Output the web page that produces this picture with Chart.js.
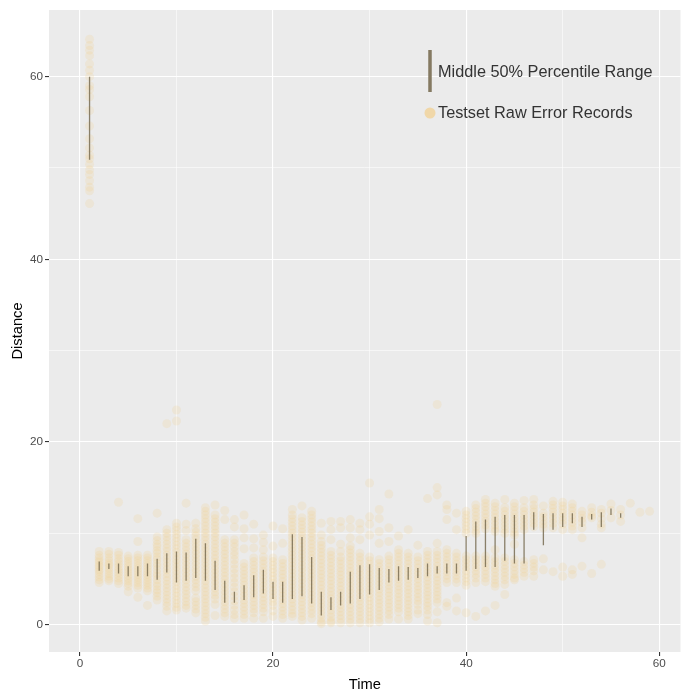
<!DOCTYPE html>
<html>
<head>
<meta charset="utf-8">
<script src="https://cdn.jsdelivr.net/npm/chart.js@4.4.1/dist/chart.umd.min.js"></script>
<style>
  html, body { margin: 0; padding: 0; background: #ffffff; }
  #wrap { width: 685px; height: 695px; }
</style>
</head>
<body>
<div id="wrap"><canvas id="errorChart" width="685" height="695"></canvas></div>
<script>
// time steps (x)
const times = [1, 2, 3, 4, 5, 6, 7, 8, 9, 10, 11, 12, 13, 14, 15, 16, 17, 18, 19, 20,
  21, 22, 23, 24, 25, 26, 27, 28, 29, 30, 31, 32, 33, 34, 35, 36, 37, 38, 39, 40,
  41, 42, 43, 44, 45, 46, 47, 48, 49, 50, 51, 52, 53, 54, 55, 56, 57, 58, 59];

// middle 50% range, times 1..56
const q75 = [60.0, 6.9, 6.7, 6.7, 6.4, 6.4, 6.7, 7.2, 7.8, 8.0, 7.9, 9.4, 8.9, 7.0, 4.8, 3.6, 4.3, 5.4, 6.0, 4.7,
  4.7, 9.9, 9.6, 7.4, 3.6, 3.0, 3.6, 5.8, 6.5, 6.6, 6.2, 6.1, 6.4, 6.3, 6.2, 6.7, 6.4, 6.7, 6.7, 9.7,
  11.3, 11.5, 11.8, 12.0, 12.0, 12.0, 12.3, 12.1, 12.2, 12.2, 12.2, 11.8, 12.1, 12.3, 12.7, 12.2];
const q25 = [50.9, 5.9, 6.1, 5.6, 5.3, 5.3, 5.3, 4.9, 5.7, 4.6, 4.8, 5.1, 4.8, 3.8, 2.4, 2.4, 2.7, 3.0, 3.4, 2.8,
  2.4, 2.8, 3.1, 2.3, 1.0, 1.6, 2.1, 2.3, 2.8, 3.3, 3.8, 4.6, 4.8, 4.9, 5.1, 5.3, 5.6, 5.6, 5.6, 5.9,
  6.1, 6.3, 6.3, 7.0, 6.7, 6.7, 10.4, 8.7, 10.4, 10.7, 11.1, 10.7, 11.5, 10.7, 12.0, 11.7];

// raw error records per time step (distance)
const rawErrors = [
  [64.1, 63.4, 62.9, 62.3, 61.4, 60.7, 60.0, 59.0, 58.6, 57.8, 56.3, 54.6, 53.2, 52.2, 51.4, 51.0, 50.4, 49.8, 49.3, 48.6, 47.9, 47.5, 46.1],
  [8.0, 7.6, 7.3, 7.0, 6.8, 6.5, 6.3, 6.0, 5.8, 5.5, 5.2, 4.9, 4.6],
  [8.0, 7.7, 7.3, 7.0, 6.7, 6.5, 6.2, 5.9, 5.6, 5.3, 5.0, 4.8],
  [13.4, 7.9, 7.6, 7.2, 6.9, 6.6, 6.3, 6.0, 5.7, 5.4, 5.1, 4.8, 4.5],
  [7.5, 7.2, 6.9, 6.6, 6.3, 6.0, 5.7, 5.4, 5.1, 4.8, 4.5, 4.2, 3.6],
  [11.6, 9.1, 7.6, 7.3, 7.0, 6.7, 6.4, 6.1, 5.8, 5.5, 5.2, 4.9, 4.6, 4.3, 4.0, 3.0],
  [7.6, 7.3, 7.0, 6.7, 6.4, 6.1, 5.8, 5.5, 5.2, 4.9, 4.6, 4.3, 4.0, 3.7, 2.1],
  [12.2, 9.6, 9.2, 8.8, 8.5, 8.1, 7.8, 7.4, 7.1, 6.7, 6.4, 6.0, 5.6, 5.3, 4.9, 4.5, 4.2, 3.8, 3.5, 3.1, 2.7],
  [22.0, 10.4, 10.0, 9.6, 9.2, 8.8, 8.4, 8.0, 7.6, 7.2, 6.8, 6.4, 6.0, 5.6, 5.2, 4.8, 4.4, 4.0, 3.6, 3.2, 2.8, 2.4, 2.0, 1.5],
  [23.5, 22.3, 11.1, 10.7, 10.3, 9.9, 9.5, 9.1, 8.7, 8.3, 7.9, 7.5, 7.1, 6.7, 6.3, 5.9, 5.5, 5.1, 4.7, 4.3, 3.9, 3.5, 3.1, 2.7, 2.3, 1.9, 1.6],
  [13.3, 11.0, 10.3, 9.3, 8.9, 8.5, 8.1, 7.7, 7.3, 6.9, 6.5, 6.1, 5.7, 5.3, 4.9, 4.5, 4.1, 3.7, 3.3, 2.9, 2.5, 2.1, 1.8],
  [11.1, 10.5, 10.1, 9.7, 9.3, 8.9, 8.5, 8.1, 7.7, 7.3, 6.9, 6.5, 6.1, 5.7, 5.3, 4.9, 4.5, 4.1, 3.7, 2.9, 2.5, 2.1, 1.7, 1.3],
  [12.8, 12.4, 12.0, 11.6, 11.2, 10.8, 10.4, 10.0, 9.6, 9.2, 8.8, 8.4, 8.0, 7.6, 7.2, 6.8, 6.4, 6.0, 5.6, 5.2, 4.8, 4.4, 4.0, 3.6, 3.2, 2.8, 2.4, 2.0, 1.6, 1.2, 0.8, 0.4],
  [13.1, 12.0, 11.6, 11.2, 10.8, 10.4, 10.0, 9.6, 9.2, 8.8, 8.4, 8.0, 7.6, 7.2, 6.8, 6.4, 6.0, 5.6, 5.2, 4.8, 4.4, 4.0, 3.6, 3.2, 2.8, 2.2, 1.0],
  [12.5, 11.5, 9.3, 8.9, 8.5, 8.1, 7.7, 7.3, 6.9, 6.5, 6.1, 5.7, 5.3, 4.9, 4.5, 4.1, 3.7, 3.3, 2.9, 2.5, 2.1, 1.7, 1.3, 0.9],
  [11.5, 10.7, 9.3, 8.9, 8.5, 8.0, 7.6, 7.1, 6.6, 6.1, 5.6, 5.1, 4.6, 4.1, 3.6, 3.1, 2.6, 2.1, 1.6, 1.1, 0.7],
  [12.0, 10.5, 9.5, 8.3, 6.7, 6.3, 5.9, 5.5, 5.1, 4.7, 4.3, 3.9, 3.5, 3.1, 2.7, 2.3, 1.9, 1.5, 1.1, 0.7],
  [11.0, 9.4, 8.4, 7.3, 6.9, 6.5, 6.1, 5.7, 5.3, 4.9, 4.5, 4.1, 3.7, 3.3, 2.9, 2.5, 2.1, 1.7, 1.3, 0.7],
  [9.8, 9.0, 8.2, 7.4, 7.0, 6.6, 6.2, 5.8, 5.4, 5.0, 4.6, 4.2, 3.8, 3.4, 3.0, 2.6, 2.2, 1.8, 1.4, 0.7],
  [10.8, 8.6, 7.3, 6.9, 6.5, 6.1, 5.7, 5.3, 4.9, 4.5, 4.1, 3.7, 3.3, 2.9, 2.5, 2.1, 1.5, 0.9],
  [10.5, 8.9, 7.1, 6.7, 6.3, 5.9, 5.5, 5.1, 4.7, 4.3, 3.9, 3.5, 3.1, 2.7, 2.3, 1.9, 1.5, 1.1, 0.7],
  [12.6, 12.0, 11.6, 11.2, 10.8, 10.4, 10.0, 9.6, 9.2, 8.8, 8.4, 8.0, 7.6, 7.2, 6.8, 6.4, 6.0, 5.6, 5.2, 4.8, 4.4, 4.0, 3.6, 3.2, 2.8, 2.4, 2.0, 1.6, 1.2, 0.9],
  [13.0, 11.7, 11.3, 10.9, 10.5, 10.1, 9.7, 9.3, 8.9, 8.5, 8.1, 7.7, 7.3, 6.9, 6.5, 6.1, 5.7, 5.3, 4.9, 4.5, 4.1, 3.7, 3.3, 2.9, 2.5, 2.1, 1.7, 1.3, 0.9, 0.5],
  [12.4, 12.0, 11.6, 11.2, 10.8, 10.4, 10.0, 9.6, 9.2, 8.8, 8.4, 8.0, 7.6, 7.2, 6.8, 6.4, 6.0, 5.6, 5.2, 4.8, 4.4, 4.0, 3.6, 3.2, 2.8, 2.4, 2.0, 1.6, 1.2, 0.7],
  [11.1, 9.8, 9.1, 8.7, 8.3, 7.9, 7.5, 7.1, 6.7, 6.3, 5.9, 5.5, 5.1, 4.7, 4.3, 3.9, 3.5, 3.1, 2.7, 2.3, 1.9, 1.5, 1.1, 0.7, 0.3, 0.1],
  [11.3, 10.4, 9.3, 8.0, 7.6, 7.2, 6.8, 6.4, 6.0, 5.6, 5.2, 4.8, 4.4, 4.0, 3.6, 3.2, 2.8, 2.4, 2.0, 1.6, 1.2, 0.8, 0.4, 0.2],
  [11.3, 10.6, 8.8, 8.0, 7.4, 7.0, 6.6, 6.2, 5.8, 5.4, 5.0, 4.6, 4.2, 3.8, 3.4, 3.0, 2.6, 2.2, 1.8, 1.4, 1.0, 0.6, 0.2],
  [11.5, 10.6, 9.5, 8.6, 8.2, 7.8, 7.4, 7.0, 6.6, 6.2, 5.8, 5.4, 5.0, 4.6, 4.2, 3.8, 3.4, 3.0, 2.6, 2.2, 1.8, 1.4, 1.0, 0.6, 0.2],
  [11.1, 10.4, 9.3, 7.8, 7.4, 7.0, 6.6, 6.2, 5.8, 5.4, 5.0, 4.6, 4.2, 3.8, 3.4, 3.0, 2.6, 2.2, 1.8, 1.4, 1.0, 0.6, 0.2],
  [15.5, 11.8, 11.0, 9.8, 7.4, 7.0, 6.6, 6.2, 5.8, 5.4, 5.0, 4.6, 4.2, 3.8, 3.4, 3.0, 2.6, 2.2, 1.8, 1.4, 1.0, 0.6, 0.2],
  [12.6, 11.6, 10.2, 8.9, 7.1, 6.7, 6.3, 5.9, 5.5, 5.1, 4.7, 4.3, 3.9, 3.5, 3.1, 2.7, 2.3, 1.9, 1.5, 1.1, 0.7, 0.3],
  [14.3, 10.6, 9.1, 7.5, 7.1, 6.7, 6.3, 5.9, 5.5, 5.1, 4.7, 4.3, 3.9, 3.5, 3.1, 2.7, 2.3, 1.9, 1.5, 1.1, 0.6],
  [9.7, 8.2, 7.8, 7.4, 7.0, 6.6, 6.2, 5.8, 5.4, 5.0, 4.6, 4.2, 3.8, 3.4, 3.0, 2.6, 2.2, 1.8, 1.4, 0.6],
  [10.4, 7.8, 7.4, 7.0, 6.6, 6.2, 5.8, 5.4, 5.0, 4.6, 4.2, 3.8, 3.4, 3.0, 2.6, 2.2, 1.8, 1.4, 1.0, 0.6],
  [8.7, 7.4, 7.0, 6.6, 6.2, 5.8, 5.4, 5.0, 4.6, 4.2, 3.8, 3.4, 3.0, 2.6, 2.2, 1.6, 1.2],
  [13.8, 8.0, 7.6, 7.2, 6.8, 6.4, 6.0, 5.6, 5.2, 4.8, 4.4, 4.0, 3.6, 3.2, 2.8, 2.4, 2.0, 1.6, 1.1, 0.4],
  [24.1, 15.0, 14.2, 8.9, 8.0, 7.6, 7.2, 6.8, 6.4, 6.0, 5.6, 5.2, 4.8, 4.4, 4.0, 3.6, 3.2, 2.8, 2.4, 1.4, 0.2],
  [13.1, 12.6, 11.5, 8.2, 7.8, 7.4, 7.0, 6.6, 6.2, 5.8, 5.4, 5.0, 4.6, 2.4, 2.0],
  [12.2, 10.4, 7.8, 7.4, 7.0, 6.6, 6.2, 5.8, 5.4, 5.0, 4.6, 2.9, 1.5],
  [12.4, 12.0, 11.6, 11.2, 10.8, 10.4, 10.0, 7.5, 7.1, 6.7, 6.3, 5.9, 5.5, 5.1, 4.7, 4.3, 1.3],
  [13.1, 12.7, 12.3, 11.9, 11.5, 11.1, 10.7, 10.3, 10.0, 7.5, 7.1, 6.7, 6.3, 5.9, 5.5, 5.1, 4.6, 0.9],
  [13.7, 13.3, 12.9, 12.5, 12.1, 11.7, 11.3, 10.9, 10.5, 7.5, 7.1, 6.7, 6.3, 5.9, 5.5, 5.1, 4.7, 1.5],
  [13.3, 12.9, 12.5, 12.1, 11.7, 11.3, 10.9, 10.5, 10.2, 8.2, 7.3, 6.9, 6.5, 6.1, 5.7, 5.3, 4.9, 4.5, 4.2, 2.1],
  [13.7, 12.8, 12.4, 12.0, 11.6, 11.2, 10.8, 10.4, 10.0, 7.3, 6.9, 6.5, 6.1, 5.7, 5.3, 4.9, 4.4, 3.3],
  [13.3, 12.9, 12.5, 12.1, 11.7, 11.3, 10.9, 10.5, 10.1, 9.8, 8.8, 7.1, 6.7, 6.3, 5.9, 5.5, 5.1, 4.9],
  [13.6, 12.8, 12.4, 12.0, 11.6, 11.2, 10.8, 10.4, 6.9, 6.5, 6.1, 5.7, 5.3],
  [13.7, 13.1, 12.7, 12.3, 11.9, 11.5, 11.1, 10.7, 7.1, 6.7, 6.3, 5.9, 5.3],
  [13.0, 12.2, 11.8, 11.4, 11.0, 10.6, 7.2, 6.0],
  [13.5, 13.1, 12.7, 12.3, 11.9, 11.5, 11.1, 10.6, 5.8],
  [13.4, 13.0, 12.6, 12.2, 11.8, 11.4, 11.0, 10.4, 6.3, 5.3],
  [13.2, 12.8, 12.4, 12.0, 11.6, 11.2, 10.8, 10.4, 6.0, 5.5],
  [12.4, 12.0, 11.6, 11.2, 10.6, 9.5, 6.4],
  [12.8, 12.3, 11.9, 11.7, 5.6],
  [12.6, 12.2, 11.6, 11.0, 10.6, 6.6],
  [13.2, 12.5, 11.7],
  [12.6, 12.0, 11.3],
  [13.3],
  [12.3],
  [12.4]
];

const rangeLabel = "Middle 50% Percentile Range";
const pointLabel = "Testset Raw Error Records";

const pointColor = "rgba(242, 208, 145, 0.22)";
const rangeColor = "rgba(120, 108, 82, 0.85)";

const scatterData = [];
times.forEach((t, i) => {
  rawErrors[i].forEach((v) => scatterData.push({ x: t, y: v }));
});

// one segment per time step, broken by null
const rangeData = [];
q25.forEach((lo, i) => {
  rangeData.push({ x: times[i], y: lo });
  rangeData.push({ x: times[i], y: q75[i] });
  rangeData.push({ x: times[i], y: null });
});

const panelBg = {
  id: "panelBg",
  beforeDraw(chart) {
    const { ctx, chartArea } = chart;
    ctx.save();
    ctx.fillStyle = "#ffffff";
    ctx.fillRect(0, 0, chart.width, chart.height);
    ctx.fillStyle = "#EBEBEB";
    ctx.fillRect(chartArea.left, chartArea.top, chartArea.right - chartArea.left, chartArea.bottom - chartArea.top);
    ctx.restore();
  },
};

// legend sits inside the panel, top right
const insideLegend = {
  id: "insideLegend",
  afterDraw(chart) {
    const ctx = chart.ctx;
    const kx = 430;
    ctx.save();
    ctx.strokeStyle = "#857A62";
    ctx.lineWidth = 3.5;
    ctx.beginPath();
    ctx.moveTo(kx, 50);
    ctx.lineTo(kx, 92);
    ctx.stroke();

    ctx.fillStyle = "rgba(242, 208, 145, 0.75)";
    ctx.beginPath();
    ctx.arc(kx, 113, 5.5, 0, Math.PI * 2);
    ctx.fill();

    ctx.fillStyle = "#333333";
    ctx.font = "16.3px 'Liberation Sans', Arial, sans-serif";
    ctx.textBaseline = "middle";
    ctx.textAlign = "left";
    ctx.fillText(rangeLabel, 438, 73);
    ctx.fillText(pointLabel, 438, 114);
    ctx.restore();
  },
};

const isMajor = (v) => v % 20 === 0;

const ctx = document.getElementById("errorChart").getContext("2d");
new Chart(ctx, {
  type: "scatter",
  data: {
    datasets: [
      {
        type: "line",
        label: rangeLabel,
        data: rangeData,
        borderColor: rangeColor,
        borderWidth: 1.3,
        pointRadius: 0,
        spanGaps: false,
        fill: false,
        order: 0,
      },
      {
        label: pointLabel,
        data: scatterData,
        backgroundColor: pointColor,
        borderWidth: 0,
        pointRadius: 4.5,
        pointHoverRadius: 4.5,
        order: 1,
      },
    ],
  },
  options: {
    responsive: false,
    animation: false,
    devicePixelRatio: 1,
    layout: { padding: { top: 10, right: 0, bottom: 0, left: 0 } },
    plugins: {
      legend: { display: false },
      tooltip: { enabled: false },
    },
    events: [],
    scales: {
      x: {
        type: "linear",
        min: -3.2,
        max: 62.2,
        afterFit(scale) {
          scale.height = 43;
        },
        border: { display: false },
        grid: {
          color: "#ffffff",
          lineWidth: (c) => (isMajor(c.tick.value) ? 1.1 : 0.55),
          tickColor: (c) => (isMajor(c.tick.value) ? "#333333" : "rgba(0,0,0,0)"),
          tickLength: 4,
        },
        ticks: {
          stepSize: 10,
          includeBounds: false,
          autoSkip: false,
          maxRotation: 0,
          padding: 1,
          color: "#4D4D4D",
          font: { family: "'Liberation Sans', Arial, sans-serif", size: 11.7 },
          callback: (v) => (isMajor(v) ? String(v) : ""),
        },
        title: {
          display: true,
          text: "Time",
          color: "#000000",
          font: { family: "'Liberation Sans', Arial, sans-serif", size: 14.7 },
          padding: { top: 0, bottom: 1 },
        },
      },
      y: {
        type: "linear",
        min: -3.0,
        max: 67.3,
        afterFit(scale) {
          scale.width = 49;
        },
        border: { display: false },
        grid: {
          color: "#ffffff",
          lineWidth: (c) => (isMajor(c.tick.value) ? 1.1 : 0.55),
          tickColor: (c) => (isMajor(c.tick.value) ? "#333333" : "rgba(0,0,0,0)"),
          tickLength: 4,
        },
        ticks: {
          stepSize: 10,
          includeBounds: false,
          autoSkip: false,
          padding: 2,
          color: "#4D4D4D",
          font: { family: "'Liberation Sans', Arial, sans-serif", size: 11.7 },
          callback: (v) => (isMajor(v) ? String(v) : ""),
        },
        title: {
          display: true,
          text: "Distance",
          color: "#000000",
          font: { family: "'Liberation Sans', Arial, sans-serif", size: 14.7 },
          padding: { top: 9, bottom: 0 },
        },
      },
    },
  },
  plugins: [panelBg, insideLegend],
});
</script>
</body>
</html>
